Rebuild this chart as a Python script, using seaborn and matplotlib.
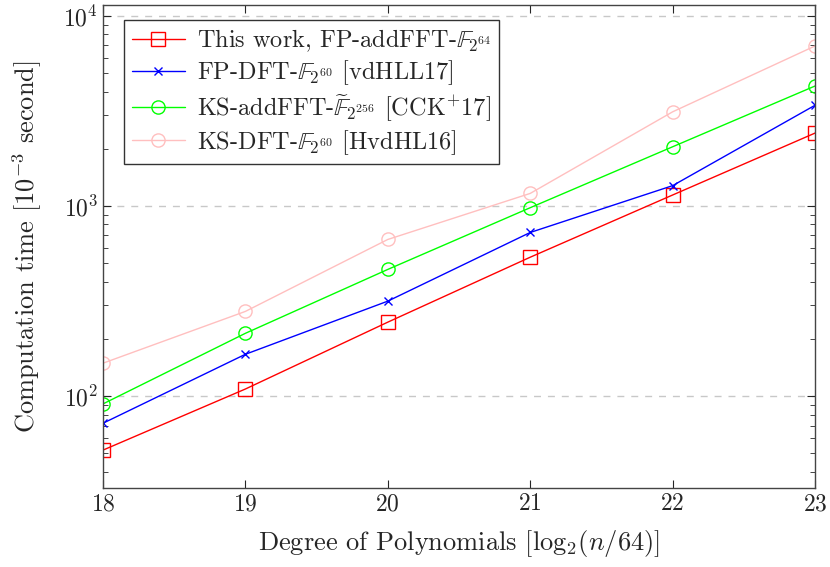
import numpy as np
import pandas as pd
import matplotlib
matplotlib.use("Agg")
import matplotlib.pyplot as plt
import seaborn as sns
from matplotlib.ticker import LogLocator, NullFormatter

# data
degrees = [18, 19, 20, 21, 22, 23]
this_work = [52, 109, 245, 538, 1143, 2420]
fp_dft = [72, 166, 316, 726, 1280, 3390]
ks_addfft = [91, 214, 464, 980, 2050, 4280]
ks_dft = [149, 279, 667, 1165, 3130, 6950]

labels = [r"This work, FP-addFFT-$\mathbb{F}_{2^{64}}$",
          r"FP-DFT-$\mathbb{F}_{2^{60}}$ [vdHLL17]",
          r"KS-addFFT-$\widetilde{\mathbb{F}}_{2^{256}}$ [CCK$^{+}$17]",
          r"KS-DFT-$\mathbb{F}_{2^{60}}$ [HvdHL16]"]
colors = ["#ff0000", "#0000ff", "#00ff00", "#ffbfbf"]
markers = ["s", "x", "o", "o"]

sns.set_style("ticks")
plt.rcParams['font.family'] = ['cmr10', 'DejaVu Serif']
plt.rcParams['mathtext.fontset'] = 'cm'
plt.rcParams['axes.formatter.use_mathtext'] = True

fig, ax = plt.subplots(figsize=(8.3, 5.67), dpi=100)

series = [this_work, fp_dft, ks_addfft, ks_dft]
for vals, lab, col, mk in zip(series, labels, colors, markers):
    df = pd.DataFrame({"x": degrees, "y": vals})
    sns.lineplot(data=df, x="x", y="y", ax=ax, color=col, marker=mk,
                 markersize=9.5 if mk != "x" else 6, markerfacecolor="none",
                 markeredgecolor=col, markeredgewidth=1.0, linewidth=1.0,
                 label=lab)

ax.set_yscale("log")
ax.set_xlim(18, 23)
ax.set_ylim(32.8, 11400)
ax.set_xticks(degrees)
ax.yaxis.set_major_locator(LogLocator(base=10))
ax.yaxis.set_minor_locator(LogLocator(base=10, subs=np.arange(2, 10)))
ax.yaxis.set_minor_formatter(NullFormatter())
ax.grid(axis="y", which="major", linestyle=(0, (5, 5)), color="#c8c8c8", linewidth=1.0)
ax.set_axisbelow(True)
ax.tick_params(which="both", direction="in", top=True, right=True, labelsize=17)
ax.tick_params(which="major", length=6, width=0.8)
ax.tick_params(which="minor", length=3.5, width=0.6)
for sp in ax.spines.values():
    sp.set_color("#444444")
    sp.set_linewidth(1.0)

ax.set_xlabel(r"Degree of Polynomials [$\mathrm{log}_2(n/64)$]", fontsize=19, labelpad=9)
ax.set_ylabel(r"Computation time [$10^{-3}$ second]", fontsize=19, labelpad=14)

leg = ax.legend(loc="upper left", bbox_to_anchor=(0.03, 0.969), fontsize=17.5,
                frameon=True, fancybox=False, edgecolor="#333333",
                framealpha=1, handlelength=2.2, borderpad=0.3, labelspacing=0.2,
                handletextpad=0.5, borderaxespad=0)
leg.get_frame().set_linewidth(1.0)

plt.subplots_adjust(left=0.124, right=0.982, top=0.991, bottom=0.139)
plt.savefig("out.png", dpi=100)
